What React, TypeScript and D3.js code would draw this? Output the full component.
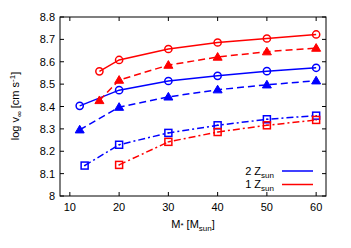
import React from "react";
import * as d3 from "d3";

const massBlueCirc = [12, 20, 30, 40, 50, 60];
const vBlueCirc = [8.403, 8.473, 8.514, 8.537, 8.558, 8.573];
const massBlueTri = [12, 20, 30, 40, 50, 60];
const vBlueTri = [8.296, 8.397, 8.443, 8.475, 8.497, 8.515];
const massBlueSq = [13, 20, 30, 40, 50, 60];
const vBlueSq = [8.136, 8.229, 8.282, 8.316, 8.343, 8.359];

const massRedCirc = [16, 20, 30, 40, 50, 60];
const vRedCirc = [8.557, 8.608, 8.657, 8.686, 8.704, 8.722];
const massRedTri = [16, 20, 30, 40, 50, 60];
const vRedTri = [8.427, 8.518, 8.585, 8.621, 8.645, 8.661];
const massRedSq = [20, 30, 40, 50, 60];
const vRedSq = [8.139, 8.242, 8.286, 8.316, 8.34];

const xTicks = [10, 20, 30, 40, 50, 60];
const yTicks = [8, 8.1, 8.2, 8.3, 8.4, 8.5, 8.6, 8.7, 8.8];

const BLUE = "#0000ff";
const RED = "#ff0000";

type Series = { xs: number[]; ys: number[]; color: string; marker: string; dash: string };

const seriesList: Series[] = [
  { xs: massBlueCirc, ys: vBlueCirc, color: BLUE, marker: "circle", dash: "" },
  { xs: massBlueTri, ys: vBlueTri, color: BLUE, marker: "tri", dash: "7,4" },
  { xs: massBlueSq, ys: vBlueSq, color: BLUE, marker: "sq", dash: "7,3,2,3" },
  { xs: massRedCirc, ys: vRedCirc, color: RED, marker: "circle", dash: "" },
  { xs: massRedTri, ys: vRedTri, color: RED, marker: "tri", dash: "7,4" },
  { xs: massRedSq, ys: vRedSq, color: RED, marker: "sq", dash: "7,3,2,3" },
];

export default function App() {
  const W = 351, H = 248;
  const L = 60, R = 326, T = 17, B = 196;
  const x = d3.scaleLinear().domain([8, 62]).range([L, R]);
  const y = d3.scaleLinear().domain([8, 8.8]).range([B, T]);
  const line = d3.line<[number, number]>().x(d => x(d[0])).y(d => y(d[1]));
  const font = "'Liberation Sans', Arial, sans-serif";
  const tl = 4;

  const marker = (m: string, cx: number, cy: number, c: string, k: string) => {
    if (m === "circle") return <circle key={k} cx={cx} cy={cy} r={3.6} fill="none" stroke={c} strokeWidth={1.5} />;
    if (m === "tri") {
      const s = 4.5;
      return <path key={k} d={`M${cx},${cy - s}L${cx + s},${cy + s * 0.7}L${cx - s},${cy + s * 0.7}Z`} fill={c} stroke={c} strokeWidth={1} />;
    }
    return (
      <g key={k}>
        <rect x={cx - 3.5} y={cy - 3.5} width={7} height={7} fill="none" stroke={c} strokeWidth={1.5} />
        <rect x={cx - 0.7} y={cy - 0.7} width={1.4} height={1.4} fill={c} />
      </g>
    );
  };

  return (
    <svg width={W} height={H} style={{ display: "block", position: "absolute", left: 0, top: 0 }} fontFamily={font}>
      <rect width={W} height={H} fill="#fff" />
      {/* ticks */}
      {xTicks.map(t => (
        <g key={"x" + t}>
          <line x1={x(t)} x2={x(t)} y1={B} y2={B - tl} stroke="#000" strokeWidth={1} />
          <line x1={x(t)} x2={x(t)} y1={T} y2={T + tl} stroke="#000" strokeWidth={1} />
          <text x={x(t)} y={B + 15} fontSize={11} textAnchor="middle">{t}</text>
        </g>
      ))}
      {yTicks.map(t => (
        <g key={"y" + t}>
          <line x1={L} x2={L + tl} y1={y(t)} y2={y(t)} stroke="#000" strokeWidth={1} />
          <line x1={R} x2={R - tl} y1={y(t)} y2={y(t)} stroke="#000" strokeWidth={1} />
          <text x={L - 5} y={y(t) + 4} fontSize={11} textAnchor="end">{d3.format("")(+t.toFixed(1))}</text>
        </g>
      ))}
      {seriesList.map((s, i) => {
        const pts: [number, number][] = s.xs.map((v, j) => [v, s.ys[j]]);
        return (
          <g key={"s" + i}>
            <path d={line(pts) || ""} fill="none" stroke={s.color} strokeWidth={1.5} strokeDasharray={s.dash} />
            {pts.map((p, j) => marker(s.marker, x(p[0]), y(p[1]), s.color, i + "-" + j))}
          </g>
        );
      })}
      <rect x={L} y={T} width={R - L} height={B - T} fill="none" stroke="#000" strokeWidth={1} />
      {/* legend */}
      <text x={274} y={175} fontSize={11} textAnchor="end">2 Z<tspan fontSize={8} dy={3}>sun</tspan></text>
      <line x1={282} x2={313} y1={171} y2={171} stroke={BLUE} strokeWidth={1.5} />
      <text x={274} y={188} fontSize={11} textAnchor="end">1 Z<tspan fontSize={8} dy={3}>sun</tspan></text>
      <line x1={282} x2={313} y1={184.5} y2={184.5} stroke={RED} strokeWidth={1.5} />
      {/* axis labels */}
      <text x={193} y={228} fontSize={11} textAnchor="middle">M<tspan fontSize={8} dy={0}>*</tspan> [M<tspan fontSize={8} dy={3}>sun</tspan><tspan dy={-3}>]</tspan></text>
      <text transform="translate(19,106) rotate(-90)" fontSize={11} textAnchor="middle">log v<tspan fontSize={8} dy={3}>∞</tspan><tspan dy={-3}> [cm s</tspan><tspan fontSize={8} dy={-4}>-1</tspan><tspan dy={4}>]</tspan></text>
    </svg>
  );
}
